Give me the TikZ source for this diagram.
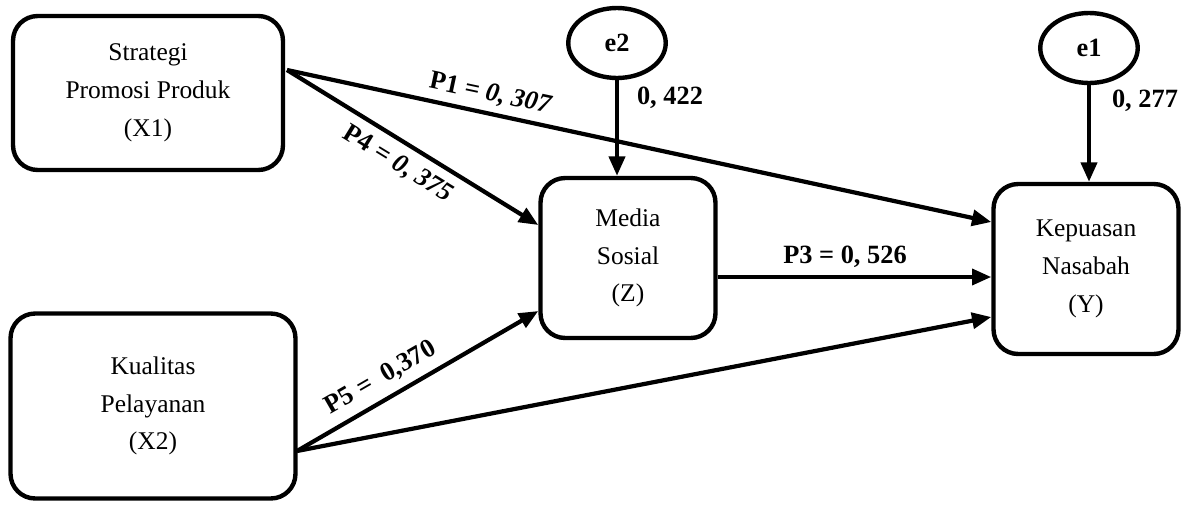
\documentclass[tikz,border=0pt]{standalone}
\usepackage{fontspec}
\setmainfont{Liberation Serif}
\usetikzlibrary{arrows.meta,shapes.geometric}
\begin{document}
\begin{tikzpicture}[x=0.02cm,y=-0.02cm,
  box/.style={draw,line width=2.5pt,rounded corners=14pt,align=center,font=\fontsize{14.5}{21.5}\selectfont},
  err/.style={draw,ellipse,line width=2.5pt,font=\bfseries\fontsize{15}{16}\selectfont,minimum width=1.95cm,minimum height=1.4cm},
  conn/.style={line width=2.4pt,-{Triangle[length=11pt,width=9pt]}},
  lab/.style={font=\bfseries\fontsize{15}{16}\selectfont,inner sep=1pt}]
\useasboundingbox (0,0) rectangle (1190,504);
\node[box,minimum width=5.4cm,minimum height=3.08cm] (x1) at (148,93) {Strategi\\Promosi Produk\\(X1)};
\node[box,minimum width=5.7cm,minimum height=3.7cm] (x2) at (153,406) {Kualitas\\Pelayanan\\(X2)};
\node[box,minimum width=3.5cm,minimum height=3.2cm] (z) at (628,258) {Media\\Sosial\\(Z)};
\node[box,minimum width=3.7cm,minimum height=3.4cm] (y) at (1086,269) {Kepuasan\\Nasabah\\(Y)};
\node[err] (e2) at (617,43) {e2};
\node[err] (e1) at (1089,48) {e1};
\coordinate (x1o) at (287,70);
\coordinate (x2o) at (297,451);
\draw[conn] (e2.south) -- (e2.south |- z.north);
\draw[conn] (e1.south) -- (e1.south |- y.north);
\draw[conn] (x1o) -- (y.west |- 0,222);
\draw[conn] (x1o) -- (z.west |- 0,225);
\draw[conn] (z.east |- 0,277) -- (y.west |- 0,277);
\draw[conn] (x2o) -- (z.west |- 0,311);
\draw[conn] (x2o) -- (y.west |- 0,317);
\node[lab,rotate=-12] (l1) at (490,94) {P1 = \itshape 0, 307};
\node[lab,rotate=-31.5] (l4) at (398,164) {P4 = \itshape 0, 375};
\node[lab,rotate=30] (l5) at (381,378) {P5 =\ \ 0,370};
\node[lab] (l3) at (845,257) {P3 = 0, 526};
\node[lab] (l2) at (670,98) {0, 422};
\node[lab] (l0) at (1145,101) {0, 277};
\end{tikzpicture}
\end{document}
